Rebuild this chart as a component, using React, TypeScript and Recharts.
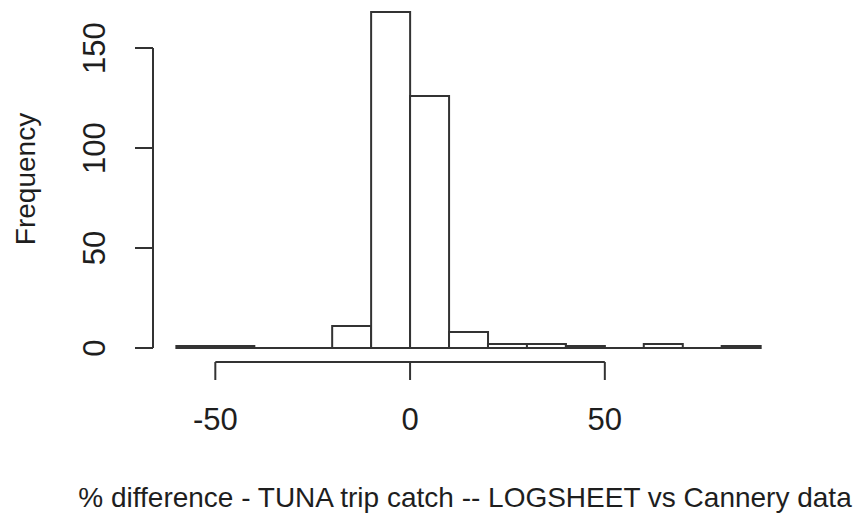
import { Bar, ComposedChart, ReferenceLine, XAxis, YAxis } from "recharts";

// histogram of % difference, bins of width 10 from -60 to 90
const binStarts = [-60, -50, -40, -30, -20, -10, 0, 10, 20, 30, 40, 50, 60, 70, 80];
const binWidth = 10;
const counts = [1, 1, 0, 0, 11, 168, 126, 8, 2, 2, 1, 0, 2, 0, 1];
const xTicks = [-50, 0, 50];
const yTicks = [0, 50, 100, 150];
const xDomain: [number, number] = [-66, 96];
const yDomain: [number, number] = [-7, 174];

const data = binStarts.map((start, i) => ({
  mid: start + binWidth / 2,
  count: counts[i],
}));

const FONT = '"Liberation Sans", Arial, sans-serif';
const INK = "#1e1e1e";
const LINE = "#333";

function XTick({ x, y, payload }: any) {
  return (
    <text x={x} y={y} textAnchor="middle" dominantBaseline="central" fontSize={31} fontFamily={FONT} fill={INK}>
      {payload.value}
    </text>
  );
}

function YTick({ x, y, payload }: any) {
  return (
    <text
      x={x}
      y={y}
      transform={`rotate(-90 ${x} ${y})`}
      textAnchor="middle"
      dominantBaseline="central"
      fontSize={31}
      fontFamily={FONT}
      fill={INK}
    >
      {payload.value}
    </text>
  );
}

export default function App() {
  const first = binStarts[0];
  const last = binStarts[binStarts.length - 1] + binWidth;
  return (
    <div style={{ position: "absolute", left: 0, top: 0, width: 862, height: 514, background: "#fff" }}>
      <ComposedChart width={862} height={514} data={data} margin={{ top: 0, right: 78, bottom: 0, left: 0 }} barCategoryGap={0} barGap={0}>
        <XAxis
          dataKey="mid"
          type="number"
          domain={xDomain}
          ticks={xTicks}
          interval={0}
          height={152}
          axisLine={false}
          tickSize={18}
          tickMargin={39}
          tickLine={{ stroke: LINE, strokeWidth: 2 }}
          tick={<XTick />}
          label={{
            content: () => (
              <text x={465} y={497} textAnchor="middle" dominantBaseline="central" fontSize={28} fontFamily={FONT} fill={INK}>
                % difference - TUNA trip catch -- LOGSHEET vs Cannery data
              </text>
            ),
          }}
        />
        <YAxis
          type="number"
          domain={yDomain}
          ticks={yTicks}
          interval={0}
          width={153}
          axisLine={false}
          tickSize={18}
          tickMargin={41}
          tickLine={{ stroke: LINE, strokeWidth: 2 }}
          tick={<YTick />}
          label={{
            content: () => (
              <text
                x={25}
                y={179}
                transform="rotate(-90 25 179)"
                textAnchor="middle"
                dominantBaseline="central"
                fontSize={28}
                fontFamily={FONT}
                fill={INK}
              >
                Frequency
              </text>
            ),
          }}
        />
        <ReferenceLine segment={[{ x: first, y: 0 }, { x: last, y: 0 }]} stroke={LINE} strokeWidth={2} />
        <Bar dataKey="count" fill="#fff" stroke={LINE} strokeWidth={2} isAnimationActive={false} />
        <ReferenceLine segment={[{ x: xDomain[0], y: yTicks[0] }, { x: xDomain[0], y: yTicks[yTicks.length - 1] }]} stroke={LINE} strokeWidth={2} />
        <ReferenceLine segment={[{ x: xTicks[0], y: yDomain[0] }, { x: xTicks[xTicks.length - 1], y: yDomain[0] }]} stroke={LINE} strokeWidth={2} />
      </ComposedChart>
    </div>
  );
}
